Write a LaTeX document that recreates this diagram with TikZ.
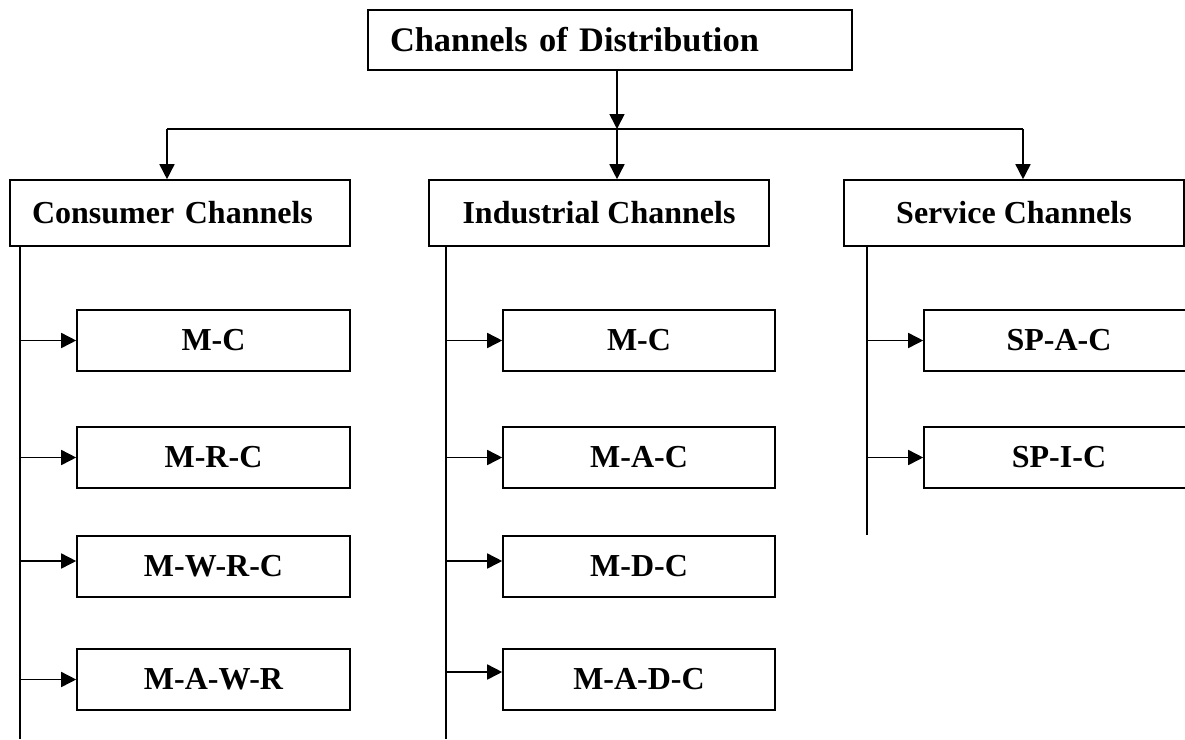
\documentclass[tikz,border=0pt]{standalone}
\usepackage{fontspec}
\setmainfont{Liberation Serif}
\usetikzlibrary{arrows.meta}
\begin{document}
\begin{tikzpicture}[x=1pt,y=-1pt,
  box/.style={draw, rectangle, line width=1.6pt, inner sep=0pt,
              font=\bfseries\fontsize{32}{38}\selectfont},
  headbox/.style={box, minimum width=340pt, minimum height=66pt},
  leafbox/.style={box, minimum height=61pt},
  link/.style={line width=1.6pt},
  arr/.style={link, -{Triangle[length=15pt,width=15pt]}}]
\useasboundingbox (0,0) rectangle (1185,739);
\clip (0,0) rectangle (1185,739);

% root
\node[box, minimum width=484pt, minimum height=60pt, text width=440pt, align=left,
      font=\bfseries\fontsize{34.4}{40}\selectfont] (root) at (610,40) {Channels of Distribution};

% channel groups
\node[headbox, text width=296pt, align=left] (con) at (180,213) {Consumer Channels};
\node[headbox, align=center] (ind) at (599,213) {Industrial Channels};
\node[headbox, align=center] (ser) at (1014,213) {Service Channels};

% distribution bus
\coordinate (jn) at (617,129);
\coordinate (hl) at (167,129);
\coordinate (hr) at (1023,129);
\draw[arr] (root.south -| jn) -- (jn);
\draw[link] (hl) -- (hr);
\draw[arr] (hl) -- (con.north -| hl);
\draw[arr] (jn) -- (ind.north -| jn);
\draw[arr] (hr) -- (ser.north -| hr);

% consumer channels
\node[leafbox, minimum width=273pt] (c1) at (213.5,340.5) {M-C};
\node[leafbox, minimum width=273pt] (c2) at (213.5,457.5) {M-R-C};
\node[leafbox, minimum width=273pt] (c3) at (213.5,566.5) {M-W-R-C};
\node[leafbox, minimum width=273pt] (c4) at (213.5,679.5) {M-A-W-R};
\coordinate (cbot) at (20,739);
\draw[link] (con.south -| cbot) -- (cbot);
\draw[arr] (c1.west -| cbot) -- (c1.west);
\draw[arr] (c2.west -| cbot) -- (c2.west);
\draw[arr] ([yshift=5.5pt]c3.west -| cbot) -- ([yshift=5.5pt]c3.west);
\draw[arr] (c4.west -| cbot) -- (c4.west);

% industrial channels
\node[leafbox, minimum width=272pt] (i1) at (639,340.5) {M-C};
\node[leafbox, minimum width=272pt] (i2) at (639,457.5) {M-A-C};
\node[leafbox, minimum width=272pt] (i3) at (639,566.5) {M-D-C};
\node[leafbox, minimum width=272pt] (i4) at (639,679.5) {M-A-D-C};
\coordinate (ibot) at (446,739);
\draw[link] (ind.south -| ibot) -- (ibot);
\draw[arr] (i1.west -| ibot) -- (i1.west);
\draw[arr] (i2.west -| ibot) -- (i2.west);
\draw[arr] ([yshift=5.5pt]i3.west -| ibot) -- ([yshift=5.5pt]i3.west);
\draw[arr] ([yshift=7.5pt]i4.west -| ibot) -- ([yshift=7.5pt]i4.west);

% service channels
\node[leafbox, minimum width=270pt] (s1) at (1059,340.5) {SP-A-C};
\node[leafbox, minimum width=270pt] (s2) at (1059,457.5) {SP-I-C};
\coordinate (sbot) at (867,535);
\draw[link] (ser.south -| sbot) -- (sbot);
\draw[arr] (s1.west -| sbot) -- (s1.west);
\draw[arr] (s2.west -| sbot) -- (s2.west);
\end{tikzpicture}
\end{document}
